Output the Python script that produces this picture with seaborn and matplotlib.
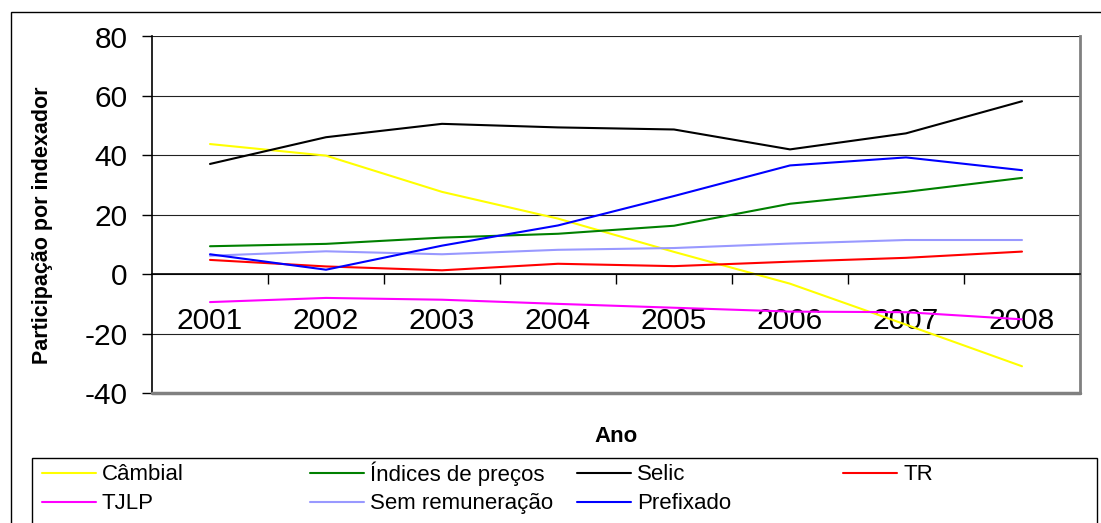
import pandas as pd
import seaborn as sns
import matplotlib.pyplot as plt
from matplotlib.lines import Line2D
from matplotlib.patches import Rectangle

anos = ["2001", "2002", "2003", "2004", "2005", "2006", "2007", "2008"]

cambial = [43.8, 39.9, 27.7, 18.7, 7.5, -3.2, -17.0, -31.0]
indices_precos = [9.4, 10.2, 12.3, 13.6, 16.3, 23.7, 27.7, 32.4]
selic = [37.1, 46.1, 50.6, 49.4, 48.7, 42.0, 47.4, 58.2]
tr = [4.8, 2.6, 1.3, 3.5, 2.7, 4.2, 5.5, 7.6]
tjlp = [-9.4, -8.0, -8.6, -10.0, -11.3, -12.6, -12.8, -15.2]
sem_remuneracao = [6.2, 7.7, 6.7, 8.2, 8.8, 10.3, 11.5, 11.5]
prefixado = [6.7, 1.5, 9.6, 16.4, 26.3, 36.6, 39.3, 35.0]

series = {
    "Câmbial": cambial,
    "Índices de preços": indices_precos,
    "Selic": selic,
    "TR": tr,
    "TJLP": tjlp,
    "Sem remuneração": sem_remuneracao,
    "Prefixado": prefixado,
}
cores = {
    "Câmbial": "#FFFF00",
    "Índices de preços": "#008000",
    "Selic": "#000000",
    "TR": "#FF0000",
    "TJLP": "#FF00FF",
    "Sem remuneração": "#9999FF",
    "Prefixado": "#0000FF",
}

# formato longo pro seaborn
linhas = []
for nome, vals in series.items():
    for ano, v in zip(anos, vals):
        linhas.append({"Ano": ano, "valor": v, "Indexador": nome})
df = pd.DataFrame(linhas)

sns.set_style("white")
plt.rcParams["font.family"] = ["Liberation Sans", "DejaVu Sans"]
plt.rcParams["axes.unicode_minus"] = False
plt.rcParams["text.color"] = "black"
plt.rcParams["axes.labelcolor"] = "black"
plt.rcParams["xtick.color"] = "black"
plt.rcParams["ytick.color"] = "black"

W, H = 1101, 523
fig = plt.figure(figsize=(W / 100, H / 100), dpi=100)
# area do grafico em pixels: x 152-1080, y 36.5-393
ax = fig.add_axes([152 / W, 1 - 393 / H, 928 / W, 356.5 / H])

sns.lineplot(data=df, x="Ano", y="valor", hue="Indexador", palette=cores,
             sort=False, linewidth=1.5, legend=False, ax=ax)

ax.set_xlim(-0.5, 7.5)
ax.set_ylim(-40, 80)
ax.set_yticks(range(-40, 81, 20))
ax.set_xticks(range(len(anos)))
ax.set_xticklabels(anos)
ax.set_xticks([i + 0.5 for i in range(len(anos) - 1)], minor=True)

ax.yaxis.grid(True, color="#222222", linewidth=0.8)
ax.xaxis.grid(False)
ax.set_axisbelow(True)

ax.spines["bottom"].set_position(("data", 0))
ax.spines["bottom"].set_color("black")
ax.spines["bottom"].set_linewidth(1.2)
ax.spines["left"].set_color("black")
ax.spines["left"].set_linewidth(1.2)
ax.spines["right"].set_color("#808080")
ax.spines["right"].set_linewidth(2)
ax.spines["top"].set_visible(False)
ax.axhline(-40, color="#808080", linewidth=2.5, clip_on=False, zorder=3)

ax.tick_params(axis="y", direction="out", length=7.2, width=1,
               left=True, labelsize=21.5, pad=10.5)
ax.tick_params(axis="x", which="major", length=0, labelsize=21.5, pad=23.5)
ax.tick_params(axis="x", which="minor", direction="out", length=7.2, width=1,
               bottom=True)

ax.set_ylabel("Participação por indexador", fontsize=15.5, fontweight="bold")
ax.yaxis.set_label_coords((43 - 152) / 928, (393 - 225) / 356.5)
ax.yaxis.label.set_verticalalignment("center")
ax.set_xlabel("Ano", fontsize=16, fontweight="bold")
ax.xaxis.set_label_coords(0.5, (393 - 437) / 356.5)
ax.xaxis.label.set_verticalalignment("center")

# borda externa do grafico (cortada a direita e embaixo)
fig.add_artist(Rectangle((11 / W, -0.1), 1.2, 1 - 12 / H + 0.1,
                         transform=fig.transFigure, fill=False,
                         edgecolor="black", linewidth=1))

# caixa da legenda
fig.add_artist(Rectangle((32 / W, -0.1), (1097 - 32) / W, 1 - 458 / H + 0.1,
                         transform=fig.transFigure, fill=False,
                         edgecolor="black", linewidth=1))

# legenda montada a mao: grade 4 colunas x 2 linhas, igual ao Excel
col_x = [42, 310, 577, 843]
linha_y = [473, 502]      # altura da amostra de linha
base_y = [480.5, 509]     # linha de base do texto
ordem = ["Câmbial", "Índices de preços", "Selic", "TR",
         "TJLP", "Sem remuneração", "Prefixado"]
for i, nome in enumerate(ordem):
    x0 = col_x[i % 4]
    r = i // 4
    fig.add_artist(Line2D([x0 / W, (x0 + 54) / W],
                          [1 - linha_y[r] / H, 1 - linha_y[r] / H],
                          transform=fig.transFigure, color=cores[nome],
                          linewidth=1.5))
    fig.text((x0 + 60) / W, 1 - base_y[r] / H, nome, fontsize=16,
             ha="left", va="baseline")

fig.savefig("out.png", dpi=100, facecolor="white")
